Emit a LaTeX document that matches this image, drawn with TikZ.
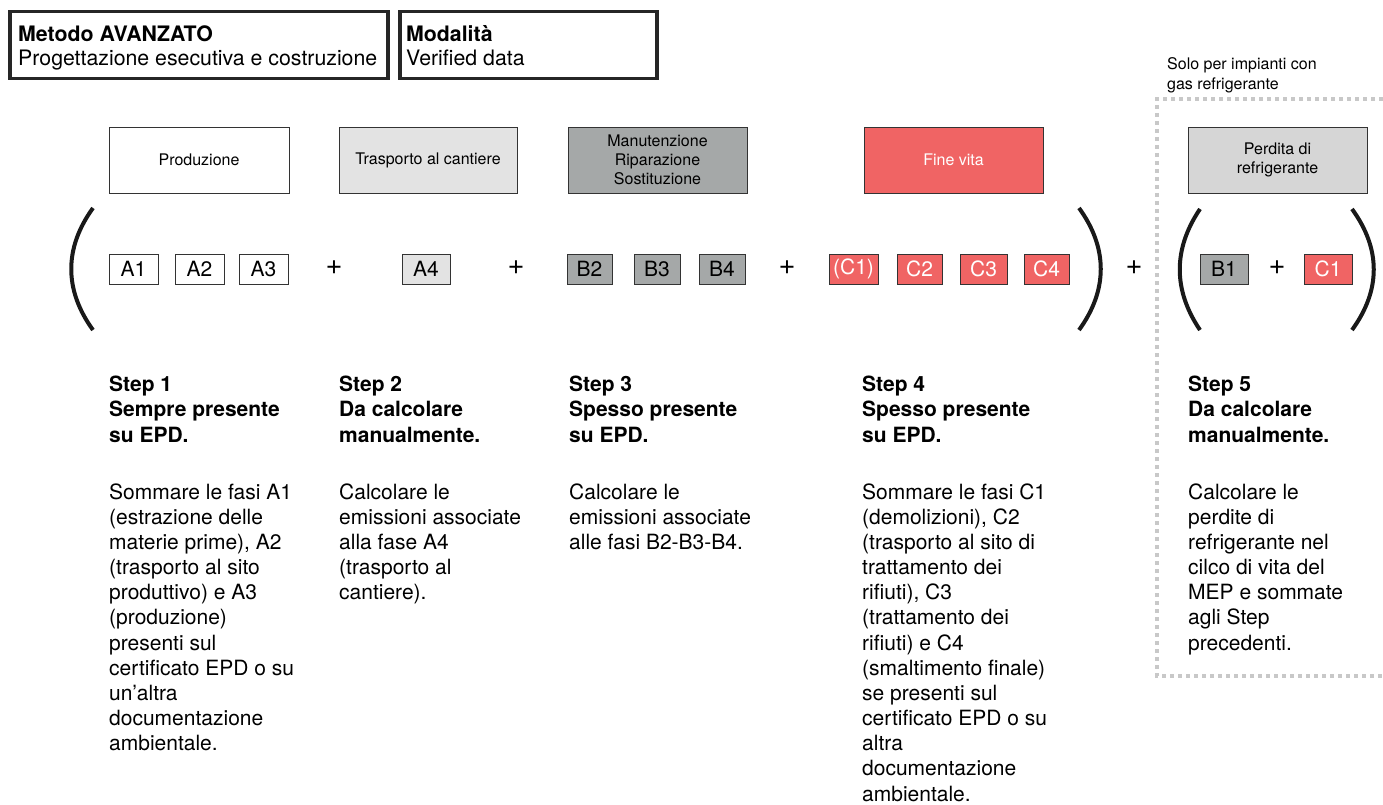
\documentclass[tikz,border=0pt]{standalone}
\usepackage{fontspec}
\setmainfont{TeX Gyre Heros}
\newcommand{\toph}{\rule{0pt}{17pt}}
\newcommand{\tops}{\rule{0pt}{13pt}}
\definecolor{lgray}{HTML}{E3E3E3}
\definecolor{mgray}{HTML}{A5A8A8}
\definecolor{pgray}{HTML}{D6D6D6}
\definecolor{cred}{HTML}{F06464}
\definecolor{dotgray}{HTML}{C8C8C8}
\definecolor{edge}{HTML}{333333}
\begin{document}
\begin{tikzpicture}[x=1pt,y=-1pt,
  hdrbox/.style={draw=black!85, line width=3.5pt, anchor=north west, inner sep=0pt},
  hdrtext/.style={anchor=north west, inner sep=0pt, align=left, font=\fontsize{21.3}{24}\selectfont},
  stage/.style={draw=edge, line width=0.8pt, minimum height=66pt, inner sep=0pt, align=center,
    font=\fontsize{16}{19.2}\selectfont},
  phase/.style={draw=edge, line width=0.8pt, minimum height=30pt, inner sep=0pt,
    font=\fontsize{21}{25}\selectfont},
  plus/.style={inner sep=0pt, font=\fontsize{29}{30}\selectfont},
  paren/.style={line width=4pt, draw=black!90},
  steptitle/.style={anchor=north west, inner sep=0pt, align=left,
    font=\fontsize{21}{25.4}\selectfont\bfseries},
  stepbody/.style={anchor=north west, inner sep=0pt, align=left,
    font=\fontsize{21}{25.15}\selectfont},
]
\useasboundingbox[fill=white] (0,0) rectangle (1383,805);

% header boxes
\node[hdrbox, minimum width=378pt, minimum height=67pt] (method) at (8,10) {};
\node[hdrtext] (methodtxt) at (18,24) {\toph\textbf{Metodo AVANZATO}\\Progettazione esecutiva e costruzione};
\node[hdrbox, minimum width=257pt, minimum height=67pt] (mode) at (398,10) {};
\node[hdrtext] (modetxt) at (406,24) {\toph\textbf{Modalità}\\Verified data};

% life-cycle stages
\node[stage, minimum width=180pt] (prod) at (199,160) {Produzione};
\node[stage, minimum width=178pt, fill=lgray] (trasp) at (428,160) {Trasporto al cantiere};
\node[stage, minimum width=179pt, fill=mgray] (manut) at (657.5,160) {Manutenzione\\Riparazione\\Sostituzione};
\node[stage, minimum width=179pt, fill=cred, text=white] (fine) at (953.5,160) {Fine vita};
\node[stage, minimum width=179pt, fill=pgray] (perd) at (1277.5,160) {Perdita di\\refrigerante};

% modules
\node[phase, minimum width=49pt] (a1) at (133.5,269) {A1};
\node[phase, minimum width=49pt] (a2) at (199.5,269) {A2};
\node[phase, minimum width=49pt] (a3) at (263.5,269) {A3};
\node[plus] (p1) at (334,268) {+};
\node[phase, minimum width=48pt, fill=lgray] (a4) at (426,269) {A4};
\node[plus] (p2) at (516,268) {+};
\node[phase, minimum width=45pt, fill=mgray] (b2) at (589.5,269) {B2};
\node[phase, minimum width=46pt, fill=mgray] (b3) at (657,269) {B3};
\node[phase, minimum width=46pt, fill=mgray] (b4) at (722,269) {B4};
\node[plus] (p3) at (787,268) {+};
\node[phase, minimum width=49pt, fill=cred, text=white] (c1o) at (853.5,269) {(C1)};
\node[phase, minimum width=45pt, fill=cred, text=white] (c2) at (919.5,269) {C2};
\node[phase, minimum width=47pt, fill=cred, text=white] (c3) at (983.5,269) {C3};
\node[phase, minimum width=45pt, fill=cred, text=white] (c4) at (1046.5,269) {C4};
\node[plus] (p4) at (1134,268) {+};
\node[phase, minimum width=48pt, fill=mgray] (b1) at (1224,269) {B1};
\node[plus] (p5) at (1277,268) {+};
\node[phase, minimum width=48pt, fill=cred, text=white] (c1) at (1328,269) {C1};

% brackets
\draw[paren] (93,208) .. controls (64,248) and (64,290) .. (93,330);
\draw[paren] (1079,208) .. controls (1108,248) and (1108,290) .. (1079,330);
\draw[paren] (1200,209) .. controls (1173,249) and (1173,290) .. (1200,330);
\draw[paren] (1352,209) .. controls (1381,249) and (1381,290) .. (1352,330);

% optional refrigerant frame
\draw[dotgray, line width=3.5pt, dash pattern=on 4pt off 4pt]
  (1383,99) -- (1157,99) -- (1157,676) -- (1383,676);
\node[anchor=north west, inner sep=0pt, align=left, font=\fontsize{16}{20.5}\selectfont]
  (solo) at (1167,56) {\tops Solo per impianti con\\gas refrigerante};

% steps
\node[steptitle] (s1t) at (109,374) {\toph Step 1\\Sempre presente\\su EPD.};
\node[stepbody] (s1b) at (109,482) {\toph Sommare le fasi A1\\(estrazione delle\\materie prime), A2\\(trasporto al sito\\produttivo) e A3\\(produzione)\\presenti sul\\certificato EPD o su\\un’altra\\documentazione\\ambientale.};

\node[steptitle] (s2t) at (339,374) {\toph Step 2\\Da calcolare\\manualmente.};
\node[stepbody] (s2b) at (339,482) {\toph Calcolare le\\emissioni associate\\alla fase A4\\(trasporto al\\cantiere).};

\node[steptitle] (s3t) at (569,374) {\toph Step 3\\Spesso presente\\su EPD.};
\node[stepbody] (s3b) at (569,482) {\toph Calcolare le\\emissioni associate\\alle fasi B2-B3-B4.};

\node[steptitle] (s4t) at (862,374) {\toph Step 4\\Spesso presente\\su EPD.};
\node[stepbody] (s4b) at (862,482) {\toph Sommare le fasi C1\\(demolizioni), C2\\(trasporto al sito di\\trattamento dei\\rifiuti), C3\\(trattamento dei\\rifiuti) e C4\\(smaltimento finale)\\se presenti sul\\certificato EPD o su\\altra\\documentazione\\ambientale.};

\node[steptitle] (s5t) at (1188,374) {\toph Step 5\\Da calcolare\\manualmente.};
\node[stepbody] (s5b) at (1188,482) {\toph Calcolare le\\perdite di\\refrigerante nel\\cilco di vita del\\MEP e sommate\\agli Step\\precedenti.};
\end{tikzpicture}
\end{document}
